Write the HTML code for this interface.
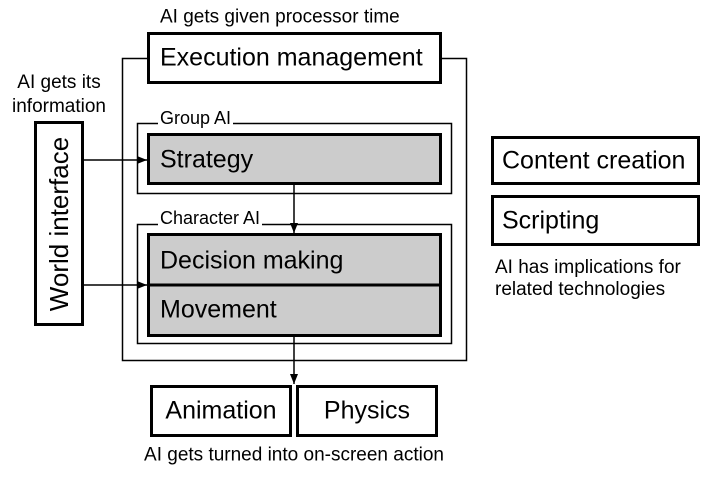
<!DOCTYPE html>
<html><head><style>
body{margin:0;background:#fff;font-family:"Liberation Sans",Arial,sans-serif;color:#000}
.a{position:absolute}
.b{position:absolute;box-sizing:border-box;border:3px solid #000;background:#fff}
.t{position:absolute;white-space:nowrap;line-height:1}
.c{transform:translateY(-50%)}
</style></head><body>
<div style="position:relative;width:717px;height:477px;overflow:hidden">
<svg class="a" style="left:0;top:0" width="717" height="477">
<defs><marker id="m" markerWidth="10" markerHeight="8" refX="10" refY="4" orient="auto" markerUnits="userSpaceOnUse"><path d="M0,0L10,4L0,8z"/></marker></defs>
<rect x="122.5" y="58.5" width="344" height="302" fill="none" stroke="#000" stroke-width="1.5"/>
<rect x="137.5" y="123.5" width="314" height="70" fill="#fff" stroke="#000" stroke-width="1.5"/>
<rect x="137.5" y="224.5" width="314" height="119" fill="#fff" stroke="#000" stroke-width="1.5"/>
<rect x="148.5" y="134.5" width="292" height="49" fill="#ccc" stroke="#000" stroke-width="3"/>
<rect x="148.5" y="234.5" width="292" height="101" fill="#ccc" stroke="#000" stroke-width="3"/>
<line x1="148" y1="285" x2="441" y2="285" stroke="#000" stroke-width="3"/>
<line x1="294" y1="185" x2="294" y2="233" stroke="#000" stroke-width="1.5" marker-end="url(#m)"/>
<line x1="294" y1="337" x2="294" y2="384" stroke="#000" stroke-width="1.5" marker-end="url(#m)"/>
<line x1="84" y1="160" x2="147" y2="160" stroke="#000" stroke-width="1.5" marker-end="url(#m)"/>
<line x1="84" y1="285" x2="147" y2="285" stroke="#000" stroke-width="1.5" marker-end="url(#m)"/>
</svg>
<div class="t c" style="left:158px;top:118px;font-size:18px;background:#fff;padding:0 2px">Group AI</div>
<div class="t c" style="left:158px;top:218px;font-size:18px;background:#fff;padding:0 2px">Character AI</div>
<div class="b" style="left:147px;top:32px;width:295px;height:52px"></div>
<div class="t c" style="left:160px;top:58px;font-size:25px">Execution management</div>
<div class="t c" style="left:160px;top:17px;font-size:19px">AI gets given processor time</div>
<div class="t" style="left:0px;top:71px;font-size:19px;text-align:center;width:118px;line-height:24px">AI gets its<br>information</div>
<div class="b" style="left:34px;top:121px;width:50px;height:205px"></div>
<div class="t" style="left:59px;top:224px;font-size:26px;transform:translate(-50%,-50%) rotate(-90deg)">World interface</div>
<div class="t c" style="left:160px;top:160px;font-size:25px">Strategy</div>
<div class="t c" style="left:160px;top:261px;font-size:25px">Decision making</div>
<div class="t c" style="left:160px;top:310px;font-size:25px">Movement</div>
<div class="b" style="left:150px;top:385px;width:142px;height:52px"></div>
<div class="t c" style="left:150px;top:411px;width:142px;text-align:center;font-size:25px">Animation</div>
<div class="b" style="left:296px;top:385px;width:142px;height:52px"></div>
<div class="t c" style="left:296px;top:411px;width:142px;text-align:center;font-size:25px">Physics</div>
<div class="t" style="left:294px;top:455px;transform:translate(-50%,-50%);font-size:19px">AI gets turned into on-screen action</div>
<div class="b" style="left:491px;top:136px;width:209px;height:49px"></div>
<div class="t c" style="left:502px;top:161px;font-size:25px">Content creation</div>
<div class="b" style="left:491px;top:195px;width:209px;height:51px"></div>
<div class="t c" style="left:502px;top:221px;font-size:25px">Scripting</div>
<div class="t" style="left:495px;top:257px;font-size:19px;line-height:22px">AI has implications for<br>related technologies</div>
</div>
</body></html>
